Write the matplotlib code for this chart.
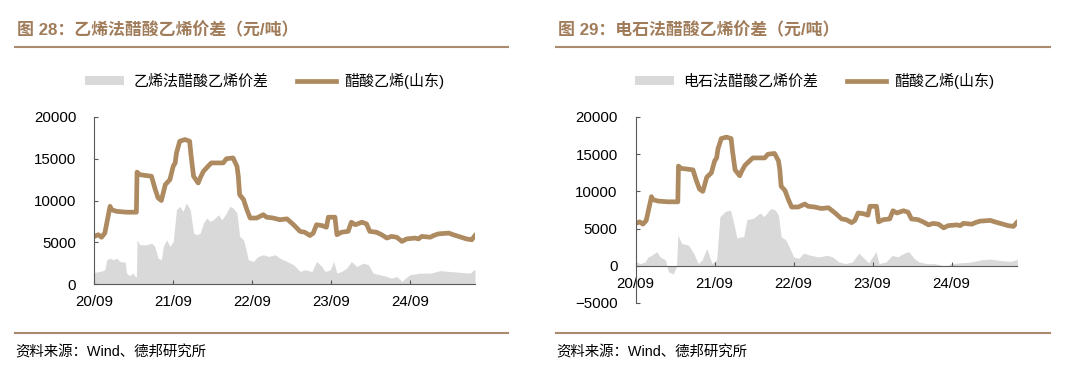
import matplotlib
matplotlib.use("Agg")
import matplotlib.pyplot as plt
from matplotlib.lines import Line2D

plt.rcParams['font.family'] = ['Liberation Sans', 'Noto Sans CJK SC', 'DejaVu Sans']

# months since 2020-09, price of vinyl acetate (Shandong), yuan/t
va_t = [0.0, 0.6, 1.1, 1.6, 1.9, 2.4, 2.6, 3.4, 4.9, 6.4, 6.5, 6.9, 8.7, 9.2, 9.7, 10.2,
        10.8, 11.5, 12.0, 12.3, 12.5, 13.0, 13.8, 14.5, 14.7, 15.1, 15.8, 16.1, 16.6, 17.3,
        17.8, 19.6, 20.1, 21.1, 21.7, 21.9, 22.1, 22.7, 23.2, 23.7, 24.7, 25.7, 26.2, 27.2,
        28.2, 29.3, 30.3, 31.3, 32.0, 32.8, 33.3, 33.8, 34.6, 35.3, 35.6, 36.6, 36.9, 37.6,
        38.6, 39.1, 39.7, 40.7, 41.4, 41.9, 42.9, 43.7, 44.5, 45.2, 46.0, 46.8, 47.5, 48.8,
        49.3, 49.8, 51.1, 51.6, 52.3, 53.9, 54.6, 55.4, 56.6, 57.4, 57.9]
va_price = [5700, 5900, 5600, 6100, 7300, 9300, 8900, 8700, 8600, 8600, 13400, 13100, 12900,
            11500, 10300, 10000, 11900, 12500, 14100, 14500, 15700, 17100, 17300, 17100, 15500,
            12900, 12100, 12700, 13500, 14100, 14500, 14500, 15000, 15100, 14100, 12900, 10700,
            10100, 8900, 7900, 7900, 8300, 8000, 7900, 7700, 7800, 7100, 6300, 6200, 5800, 6100,
            7100, 7000, 6800, 8000, 8000, 5900, 6200, 6300, 7400, 7100, 7400, 7200, 6300, 6200,
            5900, 5500, 5700, 5600, 5100, 5400, 5500, 5400, 5700, 5600, 5800, 6000, 6100, 5900,
            5700, 5400, 5300, 5800]

# ethylene route spread
eth_t = [0.0, 0.9, 1.6, 1.9, 2.4, 2.9, 3.4, 3.9, 4.7, 4.9, 5.4, 5.9, 6.2, 6.4, 6.5, 6.9, 8.0,
         8.7, 9.2, 9.7, 10.2, 10.5, 11.0, 11.5, 12.0, 12.5, 13.0, 13.5, 14.0, 14.6, 14.8, 15.1,
         15.6, 16.1, 16.6, 17.1, 17.6, 18.1, 18.9, 19.4, 20.1, 20.6, 21.1, 21.7, 22.1, 22.7,
         23.2, 23.4, 24.2, 24.9, 25.7, 26.5, 27.5, 28.2, 29.3, 30.3, 31.3, 32.0, 33.1, 33.8,
         34.6, 35.1, 35.9, 36.4, 36.9, 37.6, 38.4, 39.1, 39.9, 40.9, 41.7, 42.4, 43.5, 44.5,
         45.2, 46.0, 46.8, 47.3, 48.0, 49.5, 51.1, 52.6, 54.1, 55.6, 57.2, 57.7, 57.9]
eth_spread = [1400, 1500, 1700, 2900, 3100, 2900, 3100, 2700, 2600, 1300, 1000, 1300, 900, 900,
              5300, 4700, 4700, 4900, 4500, 3100, 2900, 4500, 5300, 4500, 5100, 8900, 9300, 8700,
              9700, 8900, 7700, 6100, 5900, 6100, 7300, 7900, 7500, 7700, 8300, 7700, 8500, 9300,
              9100, 8500, 5700, 5300, 3700, 2900, 2700, 3300, 3500, 3300, 3500, 3100, 2700, 2300,
              1500, 1700, 1500, 2700, 2100, 1500, 1700, 2700, 1300, 1500, 1900, 2700, 2100, 2500,
              2300, 1300, 1100, 900, 700, 900, 300, 700, 1100, 1300, 1300, 1600, 1500, 1400,
              1300, 1700, 1700]

# calcium carbide route spread
cac_t = [0.0, 0.7, 1.4, 1.9, 2.4, 3.2, 3.7, 4.5, 5.0, 5.7, 6.2, 6.4, 7.0, 8.0, 8.8, 9.5, 10.1,
         10.8, 11.6, 12.3, 12.8, 13.6, 14.4, 14.9, 15.4, 15.9, 16.4, 16.9, 17.9, 18.9, 19.5,
         20.5, 21.2, 21.7, 22.1, 22.8, 23.3, 24.0, 24.8, 25.5, 26.6, 27.8, 29.1, 29.9, 30.9,
         31.9, 32.9, 33.9, 34.7, 35.4, 36.5, 37.0, 38.0, 39.0, 39.8, 40.8, 41.5, 42.3, 43.1,
         44.3, 45.4, 46.4, 47.1, 47.9, 49.4, 50.9, 52.5, 54.0, 55.5, 57.0, 57.8, 58.0]
cac_spread = [540, 300, 500, 1200, 1400, 1900, 1200, 800, -800, -1100, -100, 4100, 3000, 2800,
              1700, 300, 800, 2300, 300, 800, 6600, 7300, 7500, 5700, 3700, 3900, 3900, 6200,
              6400, 7100, 6600, 7700, 7500, 6800, 3900, 3500, 2600, 1200, 1000, 1700, 1400, 1200,
              1400, 1200, 500, 300, 500, 1700, 1000, 400, 1900, 300, 500, 1400, 1200, 1700, 1900,
              1000, 500, 300, 300, 100, -100, 300, 400, 500, 800, 900, 700, 600, 800, 900]

tick_pos = [0, 12, 24, 36, 48]
tick_labels = ['20/09', '21/09', '22/09', '23/09', '24/09']

brown = '#AD8A60'
title_c = '#A07C5A'
rule_c = '#A88B6F'
grey = '#D9D9D9'
axis_c = '#595959'

W, H = 1080.0, 377.0
fig = plt.figure(figsize=(10.8, 3.77), dpi=100)


def make_panel(x0, x1, y_top, y_bot, ymin, xs, spread, spread_name, title, x_title, rule_x0, rule_x1, leg_cx):
    ax = fig.add_axes([x0 / W, 1 - y_bot / H, (x1 - x0) / W, (y_bot - y_top) / H])
    ax.fill_between(xs, spread, 0, color=grey, linewidth=0, label=spread_name)
    ax.plot(va_t, va_price, color=brown, lw=3.4, solid_joinstyle='round', label='醋酸乙烯(山东)')
    ax.set_xlim(0, 57.9)
    ax.set_ylim(ymin, 20000)
    ax.set_yticks(range(ymin, 20001, 5000))
    ax.set_xticks(tick_pos)
    ax.set_xticklabels(tick_labels)
    for s in ['top', 'right']:
        ax.spines[s].set_visible(False)
    for s in ['left', 'bottom']:
        ax.spines[s].set_color(axis_c)
        ax.spines[s].set_linewidth(0.8)
    if ymin < 0:
        ax.spines['bottom'].set_position(('data', 0))
    ax.tick_params(direction='in', length=3, width=0.8, color=axis_c, labelsize=10.8,
                   labelcolor='black')
    ax.tick_params(axis='x', pad=8)
    ax.tick_params(axis='y', pad=13)

    fig.text(x_title / W, 1 - 30 / H, title, color=title_c, fontsize=12.2, fontweight='bold',
             va='center', ha='left')
    fig.add_artist(Line2D([rule_x0 / W, rule_x1 / W], [1 - 47 / H, 1 - 47 / H], color=rule_c, lw=1.5))
    fig.add_artist(Line2D([rule_x0 / W, rule_x1 / W], [1 - 333 / H, 1 - 333 / H], color=rule_c, lw=1.5))
    fig.text(rule_x0 / W, 1 - 352 / H, '资料来源：Wind、德邦研究所', fontsize=10.4, va='center', ha='left')

    ax.legend(loc='center', bbox_to_anchor=(leg_cx / W, 1 - 81 / H), bbox_transform=fig.transFigure,
              ncol=2, frameon=False, fontsize=10.8, handlelength=2.6, handleheight=0.5,
              handletextpad=0.6, columnspacing=1.9)
    return ax


make_panel(94.3, 475, 117, 284, 0, eth_t, eth_spread, '乙烯法醋酸乙烯价差',
           '图 28：乙烯法醋酸乙烯价差（元/吨）', 17, 15, 508, 265)
make_panel(635.7, 1016.7, 117, 303, -5000, cac_t, cac_spread, '电石法醋酸乙烯价差',
           '图 29：电石法醋酸乙烯价差（元/吨）', 558, 556, 1050, 815)

fig.savefig('out.png', dpi=100)
